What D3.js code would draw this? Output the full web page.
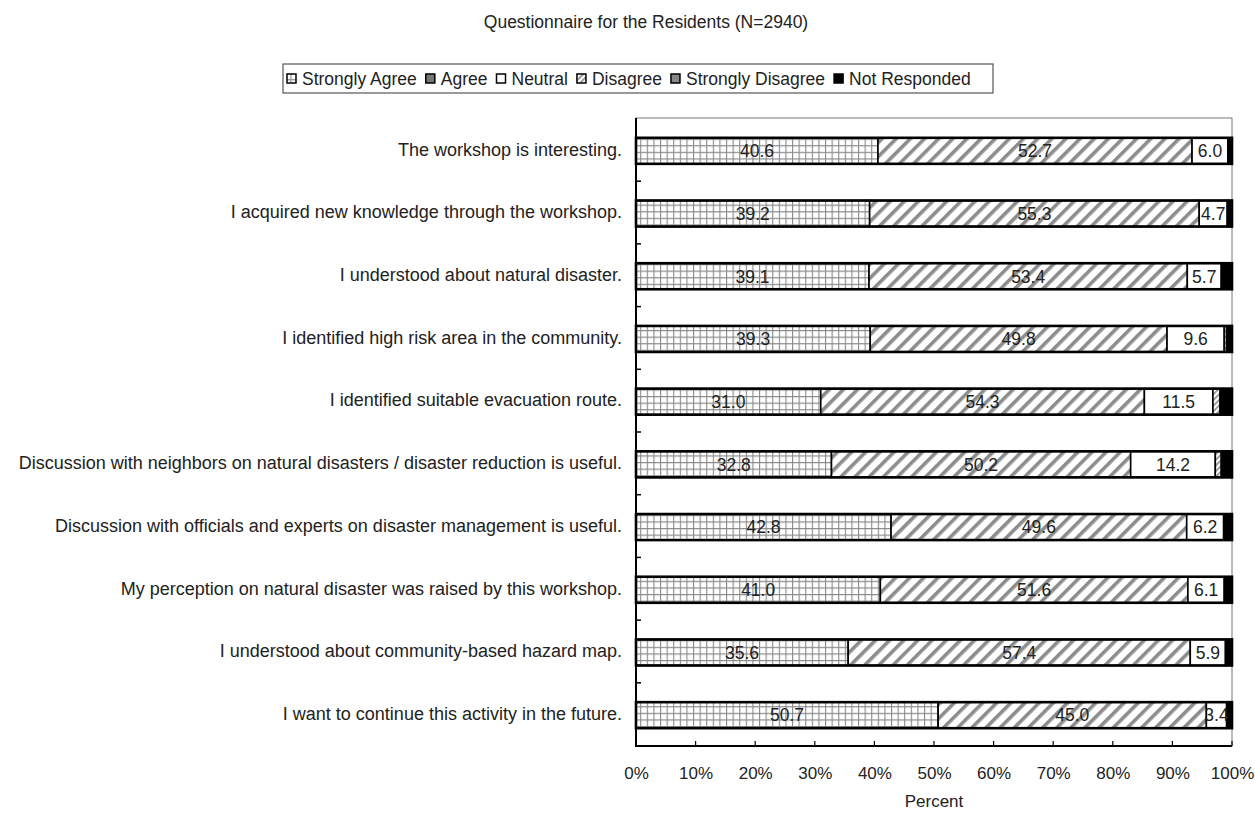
<!DOCTYPE html>
<html><head><meta charset="utf-8">
<script src="https://cdn.jsdelivr.net/npm/d3@7/dist/d3.min.js"></script>
<style>
body{margin:0;background:#fff;}
text{font-family:"Liberation Sans",Arial,sans-serif;fill:#222;}
</style></head>
<body><svg id="c" width="1255" height="815"></svg>
<script>
const categories = [
  "The workshop is interesting.",
  "I acquired new  knowledge through the workshop.",
  "I understood about natural disaster.",
  "I identified high risk area in the community.",
  "I identified suitable evacuation route.",
  "Discussion with neighbors on natural disasters / disaster reduction is useful.",
  "Discussion with officials and experts on disaster management is useful.",
  "My perception on natural disaster was raised by this workshop.",
  "I understood about community-based hazard map.",
  "I want to continue this activity in the future."
];
const seriesNames = ["Strongly Agree","Agree","Neutral","Disagree","Strongly Disagree","Not Responded"];
const stronglyAgree    = [40.6, 39.2, 39.1, 39.3, 31.0, 32.8, 42.8, 41.0, 35.6, 50.7];
const agree            = [52.7, 55.3, 53.4, 49.8, 54.3, 50.2, 49.6, 51.6, 57.4, 45.0];
const neutral          = [6.0, 4.7, 5.7, 9.6, 11.5, 14.2, 6.2, 6.1, 5.9, 3.4];
const disagree         = [0, 0, 0, 0.4, 1.2, 1.0, 0, 0, 0, 0];
const stronglyDisagree = [0, 0, 0, 0, 0, 0, 0, 0, 0, 0];
const notResponded     = [0.7, 0.8, 1.8, 0.9, 2.0, 1.8, 1.4, 1.3, 1.1, 0.9];
const xTicks = [0,10,20,30,40,50,60,70,80,90,100];
const labelled = ["Strongly Agree","Agree","Neutral"];

const seriesValues = [stronglyAgree, agree, neutral, disagree, stronglyDisagree, notResponded];
const table = categories.map((c,i)=>{
  const o = {cat:c};
  seriesNames.forEach((s,k)=>o[s]=seriesValues[k][i]);
  return o;
});

const FS = "17.5px";
const svg = d3.select("#c");
const defs = svg.append("defs");
const pGrid = defs.append("pattern").attr("id","p0").attr("patternUnits","userSpaceOnUse").attr("width",6.6).attr("height",6.6);
pGrid.append("rect").attr("width",6.6).attr("height",6.6).attr("fill","#fff");
pGrid.append("path").attr("d","M0,0.5H6.6M0.5,0V6.6").attr("stroke","#8a8a8a").attr("stroke-width",1.2);
const pHatch = defs.append("pattern").attr("id","p1").attr("patternUnits","userSpaceOnUse").attr("width",10).attr("height",10).attr("patternTransform","rotate(45)");
pHatch.append("rect").attr("width",10).attr("height",10).attr("fill","#fff");
pHatch.append("rect").attr("x",0).attr("width",3.6).attr("height",10).attr("fill","#8c8c8c");
const pFine = defs.append("pattern").attr("id","p3").attr("patternUnits","userSpaceOnUse").attr("width",4).attr("height",4).attr("patternTransform","rotate(45)");
pFine.append("rect").attr("width",4).attr("height",4).attr("fill","#fff");
pFine.append("rect").attr("width",1.6).attr("height",4).attr("fill","#888");
const fills = ["url(#p0)","url(#p1)","#fff","url(#p3)","#888","#000"];
const legendFills = ["url(#p0)","#777","#fff","url(#p3)","#888","#000"];

const x = d3.scaleLinear().domain([0,100]).range([636,1232]);
const y = d3.scaleBand().domain(categories).range([118,746]).paddingInner(0.585).paddingOuter(0.3);

svg.append("text").attr("x",646).attr("y",28).attr("text-anchor","middle").style("font-size","17.5px").text("Questionnaire for the Residents (N=2940)");

svg.append("rect").attr("x",x(0)).attr("y",118).attr("width",x(100)-x(0)).attr("height",628).attr("fill","none").attr("stroke","#777").attr("stroke-width",1);

const stack = d3.stack().keys(seriesNames)(table);
const g = svg.append("g");
stack.forEach((layer,k)=>{
  g.selectAll(null).data(layer).enter().append("rect")
    .attr("x",d=>x(d[0])).attr("width",d=>x(d[1])-x(d[0]))
    .attr("y",d=>y(d.data.cat)+1).attr("height",y.bandwidth())
    .attr("fill",fills[k]).attr("stroke","#000").attr("stroke-width",d=>(d[1]-d[0])>0?1.6:0);
});
g.selectAll(null).data(table).enter().append("rect")
  .attr("x",x(0)).attr("width",x(100)-x(0))
  .attr("y",d=>y(d.cat)+1).attr("height",y.bandwidth())
  .attr("fill","none").attr("stroke","#000").attr("stroke-width",2.6);
stack.forEach((layer,k)=>{
  if(!labelled.includes(seriesNames[k])) return;
  g.selectAll(null).data(layer).enter().append("text")
    .attr("x",d=>(x(d[0])+x(d[1]))/2).attr("y",d=>y(d.data.cat)+1+y.bandwidth()/2)
    .attr("dy","0.36em").attr("text-anchor","middle").style("font-size",FS)
    .text(d=>(d[1]-d[0]).toFixed(1));
});

const yAxis = d3.axisLeft(y).tickSize(0).tickPadding(14);
const ya = svg.append("g").attr("transform",`translate(${x(0)},0)`).call(yAxis);
ya.select(".domain").remove();
ya.selectAll("text").style("font-size","18px").style("font-family","Liberation Sans, Arial, sans-serif").attr("fill","#222");
const bounds = categories.slice(1).map(c=>y(c)-y.step()*y.paddingInner()/2);
svg.selectAll(null).data(bounds).enter().append("line")
  .attr("x1",x(0)).attr("x2",x(0)+5).attr("y1",d=>d).attr("y2",d=>d).attr("stroke","#000").attr("stroke-width",1.5);
svg.append("line").attr("x1",x(0)).attr("x2",x(0)).attr("y1",118).attr("y2",746).attr("stroke","#000").attr("stroke-width",2);

const xAxis = d3.axisBottom(x).tickValues(xTicks).tickSize(0).tickPadding(21).tickFormat(d=>d+"%");
const xa = svg.append("g").attr("transform","translate(0,746)").call(xAxis);
xa.select(".domain").remove();
xa.selectAll("text").style("font-size","17px").style("font-family","Liberation Sans, Arial, sans-serif").attr("fill","#222");
svg.selectAll(null).data(xTicks).enter().append("line")
  .attr("x1",d=>x(d)).attr("x2",d=>x(d)).attr("y1",746).attr("y2",741).attr("stroke","#000").attr("stroke-width",1.2);
svg.append("line").attr("x1",x(0)-1).attr("x2",x(100)).attr("y1",746).attr("y2",746).attr("stroke","#000").attr("stroke-width",2);
svg.append("text").attr("x",(x(0)+x(100))/2).attr("y",807).attr("text-anchor","middle").style("font-size","17px").text("Percent");

const lg = svg.append("g");
lg.append("rect").attr("x",283).attr("y",64).attr("width",710).attr("height",29).attr("fill","#fff").attr("stroke","#555").attr("stroke-width",1.2);
let lx = 287;
seriesNames.forEach((s,k)=>{
  lg.append("rect").attr("x",lx).attr("y",74).attr("width",9).attr("height",9).attr("fill",legendFills[k]).attr("stroke","#000").attr("stroke-width",1.5);
  const t = lg.append("text").attr("x",lx+15).attr("y",85).style("font-size",FS).text(s);
  lx += 15 + t.node().getComputedTextLength() + 9;
});
</script></body></html>
